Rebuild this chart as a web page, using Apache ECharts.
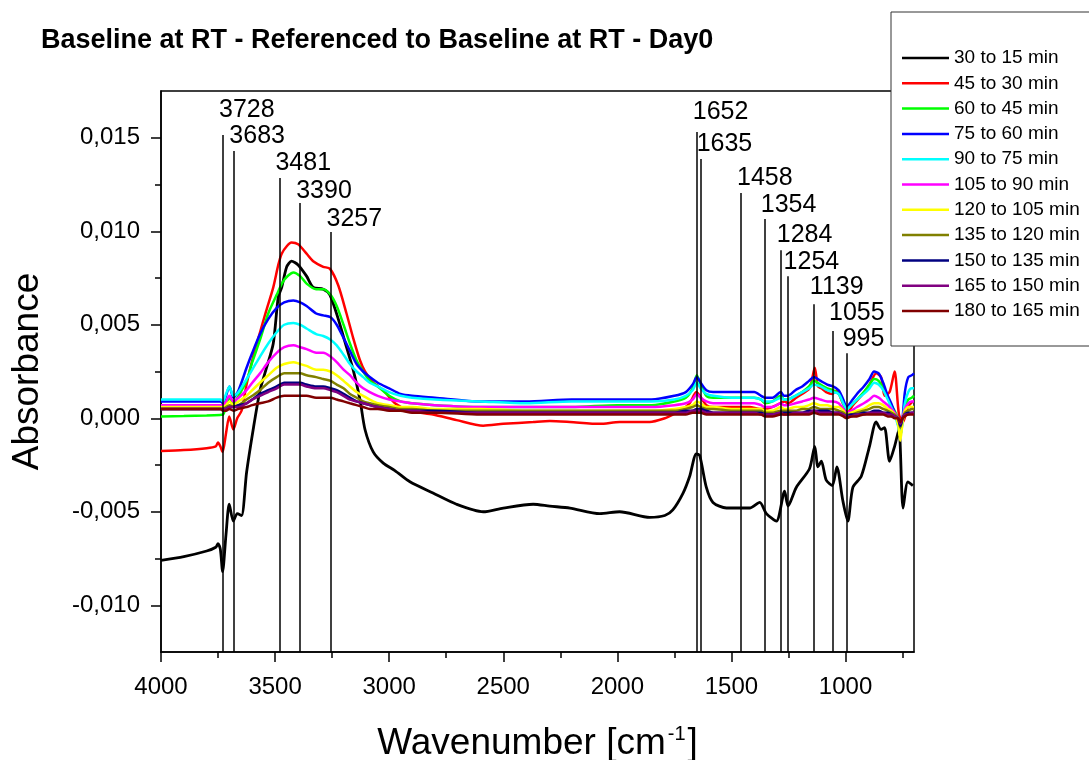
<!DOCTYPE html>
<html>
<head>
<meta charset="utf-8">
<script src="https://cdn.jsdelivr.net/npm/echarts@6/dist/echarts.min.js"></script>
<style>html,body{margin:0;padding:0;background:#fff}#c{width:1089px;height:760px}</style>
</head>
<body>
<div id="c"></div>
<script>
// ---------- DATA ----------
const seriesNames = ['30 to 15 min','45 to 30 min','60 to 45 min','75 to 60 min','90 to 75 min','105 to 90 min','120 to 105 min','135 to 120 min','150 to 135 min','165 to 150 min','180 to 165 min'];
const seriesColors = ['#000000','#ff0000','#00ff00','#0000ff','#00ffff','#ff00ff','#ffff00','#808000','#000080','#800080','#800000'];

const wnFine = [4000,3900,3800,3760,3750,3740,3730,3715,3701,3683,
  3666,3647,3625,3596,3566,3540,3508,3486,3471,3449,
  3428,3399,3362,3333,3289,3260,3223,3187,3158,3128,
  3106,3070,3026,2975,2909,2808,2705,2588,2500,2369,
  2296,2208,2077,1990,1858,1792,1757,1712,1683,1654,
  1639,1610,1581,1522,1464,1420,1376,1347,1303,1267,
  1252,1216,1158,1135,1121,1106,1085,1058,1038,1012,
  990,968,931,895,866,844,829,807,785,766,
  748,727,705];

const s30to15 = [-0.0076,-0.0074,-0.0071,-0.0069,-0.0067,-0.0070,-0.0082,-0.0062,-0.0046,-0.0055,
  -0.0051,-0.0052,-0.0029,-0.0006,0.0015,0.0026,0.0040,0.0065,0.0070,0.0081,
  0.0084,0.0082,0.0076,0.0070,0.0069,0.0066,0.0053,0.0038,0.0026,0.0010,
  -0.0006,-0.0018,-0.0024,-0.0028,-0.0034,-0.0040,-0.0046,-0.0050,-0.0048,-0.0046,
  -0.0047,-0.0048,-0.0051,-0.0050,-0.0053,-0.0052,-0.0049,-0.0040,-0.0031,-0.0019,
  -0.0020,-0.0037,-0.0045,-0.0048,-0.0048,-0.0048,-0.0045,-0.0051,-0.0055,-0.0039,
  -0.0047,-0.0037,-0.0027,-0.0015,-0.0026,-0.0023,-0.0033,-0.0036,-0.0026,-0.0044,
  -0.0055,-0.0037,-0.0031,-0.0015,-0.0002,-0.0006,-0.0005,-0.0023,-0.0015,-0.0006,
  -0.0048,-0.0034,-0.0036];

const s45to30 = [-0.00175,-0.0017,-0.0016,-0.0015,-0.0013,-0.0015,-0.0018,-0.0008,0.0001,-0.0006,
  0.0000,0.0004,0.0018,0.0033,0.0046,0.0057,0.0070,0.0082,0.0088,0.0092,
  0.0094,0.0093,0.0088,0.0084,0.0081,0.0080,0.0071,0.0056,0.0043,0.0031,
  0.0025,0.0019,0.0015,0.0008,0.0004,0.0002,-0.0001,-0.0004,-0.0003,-0.0002,
  -0.00015,-0.0002,-0.0003,-0.0002,-0.0002,0.0000,0.0002,0.0005,0.0008,0.0014,
  0.0012,0.0007,0.0006,0.0006,0.0006,0.0006,0.0005,0.0005,0.0007,0.0009,
  0.0008,0.0011,0.0016,0.0027,0.0017,0.0016,0.0014,0.0013,0.0015,0.0008,
  0.0003,0.0007,0.0012,0.0018,0.0024,0.0022,0.0012,0.0014,0.0025,0.0002,
  -0.0002,0.0006,0.0009];

const wnColored = [4000,3900,3800,3740,3728,3715,3700,3683,3660,3625,
  3600,3566,3530,3493,3460,3420,3390,3362,3320,3289,
  3257,3230,3200,3172,3143,3114,3085,3050,3000,2950,
  2900,2800,2600,2400,2200,2000,1850,1750,1700,1670,
  1652,1635,1610,1580,1500,1458,1400,1370,1354,1320,
  1284,1270,1254,1220,1190,1160,1139,1110,1080,1055,
  1030,1010,995,975,950,920,895,875,855,835,
  815,800,785,770,760,750,740,725,710,700];

const s60to45 = [0.0001,0.00012,0.00015,0.00018,0.0002,0.0006,0.0011,0.0008,0.0012,0.0020,
  0.0030,0.0042,0.0056,0.0066,0.0074,0.0078,0.0076,0.0072,0.0069,0.0069,
  0.0066,0.0060,0.0050,0.0040,0.0031,0.0025,0.0020,0.0017,0.0012,0.0009,
  0.0008,0.0007,0.0006,0.0006,0.0006,0.0007,0.0007,0.0009,0.0011,0.0016,
  0.0023,0.0018,0.0012,0.0011,0.0011,0.0011,0.0011,0.0010,0.0008,0.0009,
  0.0012,0.0010,0.0010,0.0012,0.0014,0.0017,0.0020,0.0018,0.0016,0.0015,
  0.0013,0.0008,0.0005,0.0007,0.0010,0.0014,0.0018,0.0021,0.0020,0.0016,
  0.0011,0.0007,0.0004,0.0000,-0.0005,0.0000,0.0006,0.0010,0.0011,0.0012];

const s75to60 = [0.0009,0.0009,0.0009,0.0009,0.0008,0.0012,0.0017,0.0011,0.0015,0.0027,
  0.0035,0.0045,0.0053,0.0059,0.0062,0.0063,0.0062,0.0060,0.0056,0.0055,
  0.0054,0.0050,0.0043,0.0036,0.0029,0.0025,0.0022,0.0019,0.0016,0.0013,
  0.0012,0.0011,0.0009,0.0009,0.0010,0.0010,0.0010,0.0012,0.0014,0.0018,
  0.0022,0.0019,0.0015,0.0014,0.0014,0.0014,0.0014,0.0012,0.0011,0.0011,
  0.0014,0.0012,0.0012,0.0015,0.0017,0.0020,0.0022,0.0020,0.0018,0.0017,
  0.0015,0.0010,0.0006,0.0009,0.0013,0.0017,0.0021,0.0025,0.0024,0.0019,
  0.0012,0.0008,0.0003,-0.0003,-0.0010,0.0000,0.0014,0.0022,0.0023,0.0024];

const s90to75 = [0.0010,0.0010,0.0010,0.0010,0.0009,0.0013,0.0017,0.0012,0.0014,0.0021,
  0.0026,0.0033,0.0040,0.0046,0.0050,0.0051,0.0050,0.0048,0.0045,0.0044,
  0.0042,0.0039,0.0034,0.0029,0.0025,0.0022,0.0019,0.0017,0.0014,0.0012,
  0.0011,0.0010,0.0009,0.0008,0.0009,0.0009,0.0009,0.0010,0.0012,0.0015,
  0.0019,0.0016,0.0013,0.0012,0.0011,0.0011,0.0011,0.0010,0.0009,0.0009,
  0.0011,0.0010,0.0010,0.0012,0.0014,0.0016,0.0018,0.0017,0.0015,0.0014,
  0.0013,0.0008,0.0005,0.0007,0.0010,0.0013,0.0016,0.0019,0.0018,0.0015,
  0.0010,0.0006,0.0002,-0.0004,-0.0010,-0.0002,0.0008,0.0014,0.0016,0.0016];

const s105to90 = [0.0007,0.0007,0.0007,0.0007,0.0007,0.0009,0.0012,0.0009,0.0011,0.0015,
  0.0019,0.0024,0.0030,0.0035,0.0038,0.0039,0.0038,0.0037,0.0035,0.0035,
  0.0033,0.0030,0.0026,0.0023,0.0019,0.0016,0.0014,0.0012,0.0010,0.0009,
  0.0008,0.0007,0.0006,0.0006,0.0006,0.0006,0.0006,0.0007,0.0008,0.0010,
  0.0013,0.0011,0.0009,0.0008,0.0008,0.0008,0.0008,0.0007,0.0006,0.0006,
  0.0008,0.0007,0.0007,0.0008,0.0009,0.0010,0.0011,0.0010,0.0009,0.0009,
  0.0008,0.0005,0.0003,0.0004,0.0006,0.0008,0.0010,0.0012,0.0011,0.0009,
  0.0007,0.0005,0.0003,0.0000,-0.0004,0.0000,0.0005,0.0008,0.0009,0.0009];

const s120to105 = [0.0006,0.0006,0.0006,0.0006,0.0006,0.0007,0.0009,0.0007,0.0009,0.0012,
  0.0015,0.0019,0.0023,0.0027,0.0029,0.0030,0.0029,0.0028,0.0026,0.0026,
  0.0025,0.0023,0.0020,0.0017,0.0014,0.0012,0.0010,0.0008,0.0007,0.0006,
  0.0006,0.0005,0.0005,0.0004,0.0004,0.0004,0.0004,0.0005,0.0006,0.0007,
  0.0009,0.0008,0.0006,0.0006,0.0005,0.0005,0.0005,0.0005,0.0004,0.0004,
  0.0006,0.0005,0.0005,0.0006,0.0006,0.0007,0.0008,0.0007,0.0007,0.0006,
  0.0006,0.0004,0.0002,0.0003,0.0004,0.0005,0.0007,0.0008,0.0008,0.0007,
  0.0005,0.0004,0.0002,-0.0003,-0.0012,-0.0002,0.0004,0.0006,0.0006,0.0006];

const s135to120 = [0.0005,0.0005,0.0005,0.0005,0.0005,0.0006,0.0007,0.0006,0.0007,0.0010,
  0.0012,0.0015,0.0019,0.0022,0.0024,0.0024,0.0024,0.0023,0.0022,0.0021,
  0.0020,0.0018,0.0016,0.0013,0.0011,0.0009,0.0008,0.0007,0.0006,0.0005,
  0.0005,0.0004,0.0004,0.0004,0.0004,0.0004,0.0004,0.0004,0.0005,0.0006,
  0.0007,0.0006,0.0005,0.0005,0.0004,0.0004,0.0004,0.0004,0.0003,0.0003,
  0.0004,0.0004,0.0004,0.0004,0.0005,0.0005,0.0006,0.0005,0.0005,0.0005,
  0.0004,0.0003,0.0002,0.0002,0.0003,0.0004,0.0005,0.0006,0.0006,0.0005,
  0.0004,0.0003,0.0002,0.0000,-0.0005,0.0000,0.0003,0.0004,0.0005,0.0005];

const s150to135 = [0.0005,0.0005,0.0005,0.0005,0.0005,0.0005,0.0006,0.0006,0.0007,0.0008,
  0.0010,0.0013,0.0015,0.0017,0.0019,0.0019,0.0019,0.0018,0.0017,0.0017,
  0.0016,0.0015,0.0013,0.0011,0.0009,0.0008,0.0007,0.0006,0.0005,0.0004,
  0.0004,0.0004,0.0003,0.0003,0.0003,0.0003,0.0003,0.0003,0.0004,0.0004,
  0.0005,0.0005,0.0004,0.0003,0.0003,0.0003,0.0003,0.0003,0.0002,0.0002,
  0.0003,0.0003,0.0003,0.0003,0.0003,0.0004,0.0004,0.0004,0.0004,0.0003,
  0.0003,0.0002,0.0001,0.0002,0.0002,0.0003,0.0003,0.0004,0.0004,0.0003,
  0.0003,0.0002,0.0001,0.0000,-0.0004,0.0000,0.0002,0.0003,0.0003,0.0003];

const s165to150 = [0.0005,0.0005,0.0005,0.0005,0.0005,0.0005,0.0006,0.0006,0.0006,0.0008,
  0.0010,0.0012,0.0014,0.0016,0.0018,0.0018,0.0018,0.0017,0.0016,0.0016,
  0.0015,0.0014,0.0012,0.0010,0.0009,0.0008,0.0007,0.0006,0.0005,0.0004,
  0.0004,0.0003,0.0003,0.0003,0.0003,0.0003,0.0003,0.0003,0.0003,0.0004,
  0.0004,0.0004,0.0003,0.0003,0.0003,0.0003,0.0003,0.0002,0.0002,0.0002,
  0.0003,0.0002,0.0002,0.0003,0.0003,0.0003,0.0004,0.0003,0.0003,0.0003,
  0.0003,0.0002,0.0001,0.0001,0.0002,0.0002,0.0003,0.0003,0.0003,0.0003,
  0.0002,0.0002,0.0001,0.0000,-0.0003,0.0000,0.0002,0.0002,0.0003,0.0003];

const s180to165 = [0.0005,0.0005,0.0005,0.0005,0.0004,0.0004,0.0005,0.0004,0.0005,0.0006,
  0.0007,0.0008,0.0009,0.0011,0.0012,0.0012,0.0012,0.0012,0.0011,0.0011,
  0.0011,0.0010,0.0009,0.0008,0.0007,0.0006,0.0005,0.0005,0.0004,0.0004,
  0.0003,0.0003,0.0002,0.0002,0.0002,0.0002,0.0002,0.0002,0.0002,0.0003,
  0.0003,0.0003,0.0002,0.0002,0.0002,0.0002,0.0002,0.0002,0.0001,0.0001,
  0.0002,0.0002,0.0002,0.0002,0.0002,0.0002,0.0003,0.0002,0.0002,0.0002,
  0.0002,0.0001,0.0000,0.0001,0.0001,0.0002,0.0002,0.0002,0.0002,0.0002,
  0.0001,0.0001,0.0000,0.0000,-0.0002,0.0000,0.0001,0.0002,0.0002,0.0002];

// peak annotations
const peakWn = [3728,3683,3481,3390,3257,1652,1635,1458,1354,1284,1254,1139,1055,995];
const peakLineTop = [0.01515,0.01429,0.01285,0.01151,0.00996,0.01531,0.01387,0.01205,0.01065,0.00899,0.00760,0.00610,0.00466,0.00348];
const peakLabelY = [0.01649,0.01510,0.01365,0.01215,0.01065,0.01638,0.01467,0.01285,0.01140,0.00980,0.00835,0.00701,0.00562,0.00423];

// axis ticks
const xMajorTicks = [4000,3500,3000,2500,2000,1500,1000];
const xMinorTicks = [3750,3250,2750,2250,1750,1250,750];
const yMajorTicks = [-0.010,-0.005,0,0.005,0.010,0.015];
const yMinorTicks = [-0.0075,-0.0025,0.0025,0.0075,0.0125];

// ---------- CHART ----------
const FONT = 'Liberation Sans, Arial, Helvetica, sans-serif';
const allValues = [s30to15,s45to30,s60to45,s75to60,s90to75,s105to90,s120to105,s135to120,s150to135,s165to150,s180to165];
const grids = [wnFine,wnFine,wnColored,wnColored,wnColored,wnColored,wnColored,wnColored,wnColored,wnColored,wnColored];

const X_MIN = 700, X_MAX = 4000, Y_MIN = -0.0125, Y_MAX = 0.0175;

const lineSeries = allValues.map((vals, i) => ({
  name: seriesNames[i],
  type: 'line',
  xAxisIndex: 0, yAxisIndex: 0,
  data: vals.map((v, k) => [grids[i][k], v]),
  symbol: 'none',
  smooth: 0.25,
  lineStyle: { color: seriesColors[i], width: i === 0 ? 2.8 : 2.5 },
  itemStyle: { color: seriesColors[i] },
  z: 2,
  animation: false
}));

const annotSeries = {
  name: 'peaks',
  type: 'scatter',
  xAxisIndex: 0, yAxisIndex: 0,
  symbolSize: 0,
  data: peakWn.map((w, i) => ({ value: [w, peakLabelY[i]], name: String(w) })),
  label: {
    show: true, position: 'right', distance: 0, offset: [-4, 0],
    formatter: '{b}', color: '#000', opacity: 1, textBorderWidth: 0,
    fontSize: 25, fontFamily: FONT
  },
  markLine: {
    silent: true, symbol: ['none', 'none'],
    label: { show: false },
    lineStyle: { color: '#000', width: 1.5, type: 'solid', opacity: 1 },
    data: peakWn.map((w, i) => [{ coord: [w, Y_MIN] }, { coord: [w, peakLineTop[i]] }]),
    animation: false
  },
  z: 5,
  animation: false
};

const axisLineStyle = { color: '#000', width: 1.5 };
const fmtY = v => v.toFixed(3).replace('.', ',').replace('-0,000', '0,000');

const option = {
  backgroundColor: '#fff',
  animation: false,
  title: {
    text: 'Baseline at RT - Referenced to Baseline at RT - Day0',
    left: 36, top: 22,
    textStyle: { fontSize: 27, fontWeight: 'bold', color: '#000', fontFamily: FONT }
  },
  legend: {
    data: seriesNames,
    orient: 'vertical',
    left: 891, top: 12,
    padding: [36, 40, 25, 11],
    icon: 'rect',
    itemWidth: 47, itemHeight: 2.5, itemGap: 5.3,
    backgroundColor: '#fff',
    borderColor: '#333', borderWidth: 1,
    textStyle: { fontSize: 19, color: '#000', fontFamily: FONT, lineHeight: 20 },
    selectedMode: false,
    z: 10
  },
  grid: {
    left: 161, right: 175, top: 91, bottom: 108,
    containLabel: false,
    outerBoundsMode: 'none',
    show: true, borderColor: '#000', borderWidth: 1.5, backgroundColor: 'transparent'
  },
  xAxis: [
    {
      type: 'value', inverse: true, min: X_MIN, max: X_MAX, position: 'bottom',
      axisLine: { show: true, onZero: false, lineStyle: axisLineStyle },
      axisTick: { show: true, length: 10, customValues: xMajorTicks, lineStyle: axisLineStyle },
      axisLabel: { customValues: xMajorTicks, fontSize: 24, color: '#000', margin: 23, fontFamily: FONT, formatter: v => String(v) },
      splitLine: { show: false },
      name: '{a|Wavenumber [cm}{s|-1}{a|]}',
      nameLocation: 'middle', nameGap: 72,
      nameTextStyle: {
        rich: {
          a: { fontSize: 37, color: '#000', fontFamily: FONT, lineHeight: 40 },
          s: { fontSize: 20, color: '#000', fontFamily: FONT, verticalAlign: 'top', lineHeight: 40, padding: [0, 2, 0, 2] }
        }
      }
    },
    {
      type: 'value', inverse: true, min: X_MIN, max: X_MAX, position: 'bottom',
      axisLine: { show: false, onZero: false },
      axisTick: { show: true, length: 6, customValues: xMinorTicks, lineStyle: axisLineStyle },
      axisLabel: { show: false },
      splitLine: { show: false }
    }
  ],
  yAxis: [
    {
      type: 'value', min: Y_MIN, max: Y_MAX, position: 'left',
      axisLine: { show: true, onZero: false, lineStyle: axisLineStyle },
      axisTick: { show: true, length: 10, customValues: yMajorTicks, lineStyle: axisLineStyle },
      axisLabel: { customValues: yMajorTicks, fontSize: 24, color: '#000', margin: 21, fontFamily: FONT, formatter: fmtY },
      splitLine: { show: false },
      name: 'Absorbance', nameLocation: 'middle', nameGap: 115, nameRotate: 90,
      nameTextStyle: { fontSize: 37, color: '#000', fontFamily: FONT }
    },
    {
      type: 'value', min: Y_MIN, max: Y_MAX, position: 'left',
      axisLine: { show: false, onZero: false },
      axisTick: { show: true, length: 6, customValues: yMinorTicks, lineStyle: axisLineStyle },
      axisLabel: { show: false },
      splitLine: { show: false }
    }
  ],
  series: [...lineSeries, annotSeries]
};

const chart = echarts.init(document.getElementById('c'), null, { renderer: 'canvas' });
chart.setOption(option);
</script>
</body>
</html>
